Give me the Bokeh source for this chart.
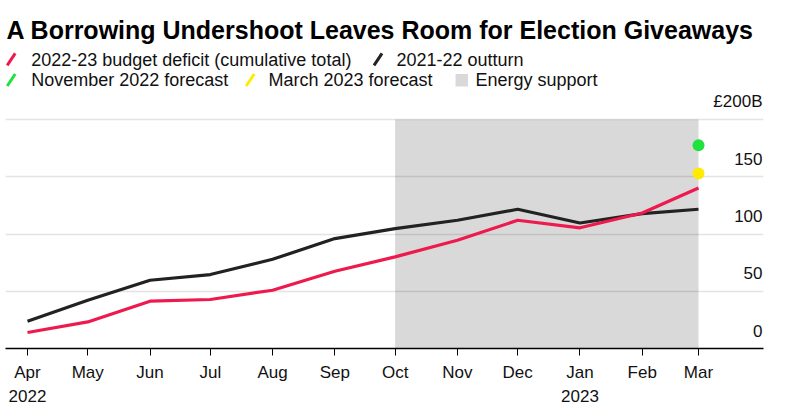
from datetime import datetime, timezone
from bokeh.plotting import figure
from bokeh.models import Range1d, FixedTicker, LinearAxis
from bokeh.core.properties import value
from bokeh.embed import file_html
from bokeh.resources import INLINE

# ---------------- data ----------------
month_starts = ["2022-04-01", "2022-05-01", "2022-06-01", "2022-07-01", "2022-08-01", "2022-09-01",
                "2022-10-01", "2022-11-01", "2022-12-01", "2023-01-01", "2023-02-01", "2023-03-01"]
months = ["Apr", "May", "Jun", "Jul", "Aug", "Sep", "Oct", "Nov", "Dec", "Jan", "Feb", "Mar"]
year_ticks = ["2022-04-01", "2023-01-01"]
year_labels = ["2022", "2023"]
deficit_2022_23 = [14.0, 23.2, 41.3, 42.8, 50.9, 67.5, 80.0, 94.5, 112.0, 105.4, 118.3, 140.1]
outturn_2021_22 = [23.8, 42.1, 59.6, 64.6, 77.9, 96.0, 104.7, 112.0, 121.6, 109.6, 117.8, 121.6]
forecast_date = ["2023-03-01"]
nov_2022_forecast = [177.6]
mar_2023_forecast = [152.8]
energy_support = ["2022-10-01", "2023-03-01"]
y_ticks = [0, 50, 100, 150, 200]
y_tick_labels = ["0", "50", "100", "150", "£200B"]

title = "A Borrowing Undershoot Leaves Room for Election Giveaways"
legend_labels = ["2022-23 budget deficit (cumulative total)", "2021-22 outturn",
                 "November 2022 forecast", "March 2023 forecast", "Energy support"]

# ---------------- styles ----------------
RED = "#ee1a4e"
BLACK = "#222222"
GREEN = "#1fe33c"
YELLOW = "#ffea00"
SHADE = "#d9d9d9"
FONT = "Liberation Sans"


def ms(s):
    d = datetime.strptime(s, "%Y-%m-%d").replace(tzinfo=timezone.utc)
    return int(d.timestamp() * 1000)


DAY = 86400000
xs = [ms(s) for s in month_starts]

# ---------------- layout helpers ----------------
FRAME_W, FRAME_H = 758, 340
X0_PX = 22.0                                  # pixel position of first month inside frame
PX_PER_MS = 671.0 / (xs[-1] - xs[0])          # horizontal scale
PX_PER_UNIT = 229.0 / 200.0                   # vertical scale
x_start = xs[0] - X0_PX / PX_PER_MS
x_end = x_start + FRAME_W / PX_PER_MS
y_end = FRAME_H / PX_PER_UNIT


def X(px):
    return x_start + px / PX_PER_MS


def Y(py):
    return (FRAME_H - py) / PX_PER_UNIT


p = figure(frame_width=FRAME_W, frame_height=FRAME_H, x_axis_type="datetime",
           x_range=Range1d(x_start, x_end), y_range=Range1d(0, y_end),
           output_backend="svg", toolbar_location=None, y_axis_location=None,
           min_border_left=5, min_border_right=17, min_border_top=8, min_border_bottom=0,
           background_fill_color="white", border_fill_color="white",
           outline_line_color=None)

# grid
p.xgrid.visible = False
p.ygrid.ticker = FixedTicker(ticks=y_ticks)
p.ygrid.grid_line_color = "black"
p.ygrid.grid_line_alpha = 0.11
p.ygrid.grid_line_width = 1.5

# energy support shading
p.quad(left=[ms(energy_support[0])], right=[ms(energy_support[1])],
       bottom=[y_ticks[0]], top=[y_ticks[-1]], fill_color=SHADE, line_color=None, level="image")

# lines
p.line(xs, outturn_2021_22, line_color=BLACK, line_width=3.2, line_join="round")
p.line(xs, deficit_2022_23, line_color=RED, line_width=3.2, line_join="round")

# forecasts
fx = [ms(s) for s in forecast_date]
p.scatter(fx, nov_2022_forecast, size=12, fill_color=GREEN, line_color=None)
p.scatter(fx, mar_2023_forecast, size=12, fill_color=YELLOW, line_color=None)

# y tick labels (inside the plot, above gridlines)
p.text(x=[X(757)] * len(y_ticks), y=y_ticks, text=y_tick_labels,
       text_align="right", text_baseline="alphabetic", y_offset=-18,
       text_font=value(FONT), text_font_size="17px", text_color="#111111")

# title
p.text(x=[X(1)], y=[Y(21.3)], text=[title], text_baseline="alphabetic",
       text_font=value(FONT), text_font_style="bold", text_font_size="25px", text_color="#000000")

# manual legend
sw_cx = [5.7, 372.5, 5.7, 244.7]
sw_cy = [50.8, 50.8, 71.5, 71.5]
sw_col = [RED, BLACK, GREEN, YELLOW]
p.segment(x0=[X(c - 4) for c in sw_cx], y0=[Y(c + 6) for c in sw_cy],
          x1=[X(c + 4) for c in sw_cx], y1=[Y(c - 6) for c in sw_cy],
          line_color=sw_col, line_width=3)
p.scatter([X(456.3)], [Y(71.7)], marker="square", size=12.5, fill_color=SHADE, line_color=None)
txt_x = [25.7, 391.0, 25.7, 263.0, 470.0]
txt_y = [51.3, 51.3, 71.5, 71.5, 71.5]
p.text(x=[X(v) for v in txt_x], y=[Y(v) for v in txt_y], text=legend_labels,
       text_baseline="middle", text_font=value(FONT), text_font_size="18px", text_color="#111111")

# x axis (months)
xa = p.xaxis[0]
xa.ticker = FixedTicker(ticks=xs)
xa.major_label_overrides = {t: m for t, m in zip(xs, months)}
xa.axis_line_color = "black"
xa.axis_line_width = 1.5
xa.major_tick_line_color = "black"
xa.major_tick_line_width = 1
xa.major_tick_out = 7
xa.major_tick_in = 0
xa.minor_tick_line_color = None
xa.major_label_standoff = 7
xa.major_label_text_font = FONT
xa.major_label_text_font_size = "17px"
xa.major_label_text_color = "#111111"

# second axis row (years)
yt = [ms(s) for s in year_ticks]
ya = LinearAxis(ticker=FixedTicker(ticks=yt),
                major_label_overrides={t: l for t, l in zip(yt, year_labels)},
                axis_line_color=None, major_tick_line_color=None, minor_tick_line_color=None,
                major_tick_out=0, major_tick_in=0, major_label_standoff=5,
                major_label_text_font=FONT, major_label_text_font_size="17px",
                major_label_text_color="#111111")
p.add_layout(ya, "below")

open("out.html", "w").write(file_html(p, INLINE))
